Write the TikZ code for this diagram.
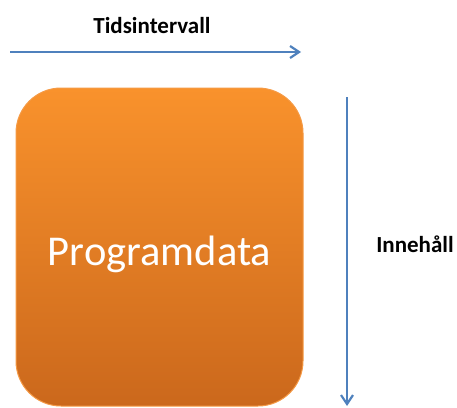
\documentclass[tikz,border=0pt]{standalone}
\usepackage{fontspec}
\setmainfont{Carlito}
\usetikzlibrary{arrows.meta}
\definecolor{arrowblue}{HTML}{4F81BD}
\definecolor{boxtop}{HTML}{F9922C}
\definecolor{boxbot}{HTML}{CB681C}
\definecolor{boxedge}{HTML}{F59A45}
\tikzset{
  axisarrow/.style={draw=arrowblue, line width=2.2pt, -{Straight Barb[length=9pt,width=12pt,line width=2.2pt]}},
  axislabel/.style={font=\fontsize{23}{27}\selectfont\bfseries, text=black, inner sep=0pt},
  databox/.style={draw=boxedge, line width=1pt, rounded corners=45pt, top color=boxtop, bottom color=boxbot,
    minimum width=287pt, minimum height=318pt, inner sep=0pt}
}
\begin{document}
\begin{tikzpicture}[x=1pt,y=-1pt]
\useasboundingbox (0,0) rectangle (457,407);
\node[databox] (box) at (159.5,247) {};
\node[text=white, font=\fontsize{42.5}{50}\selectfont, inner sep=0pt, anchor=base] (prog) at (159.5,265) {Programdata};
\node[axislabel, anchor=base] (tid) at (152,33) {Tidsintervall};
\node[axislabel, anchor=base] (inn) at (415,252) {Innehåll};
\coordinate (h1) at (10,52);
\coordinate (h2) at (301,52);
\coordinate (v1) at (347,97);
\coordinate (v2) at (347,406);
\draw[axisarrow] (h1) -- (h2);
\draw[axisarrow] (v1) -- (v2);
\end{tikzpicture}
\end{document}
